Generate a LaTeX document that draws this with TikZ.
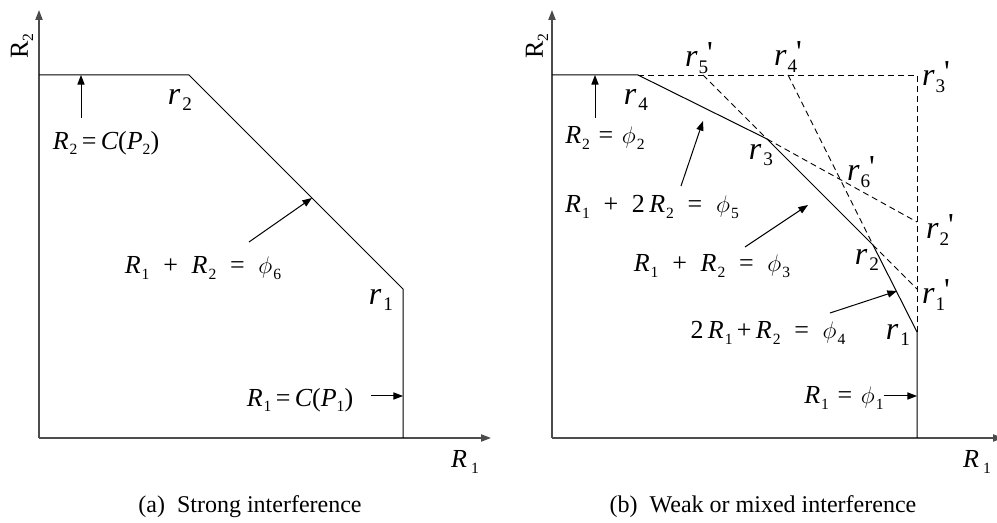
\documentclass[tikz,border=0pt]{standalone}
\usepackage{fontspec}
\setmainfont{Liberation Serif}
\newfontfamily\itfont{Liberation Serif Italic}
\usetikzlibrary{arrows.meta}
\newcommand\sub[1]{\raisebox{-0.45ex}{\scalebox{0.6}{#1}}}
\newcommand\Rv[1]{{\itfont R}\kern0.5pt\sub{#1}}
\newcommand\rv[1]{{\itfont r}\kern1pt\sub{#1}}
\newcommand\rp[1]{{\itfont r}\kern0.5pt\sub{#1}\kern-0.5pt\raisebox{0.2ex}{\textquotesingle}}
\newcommand\phv[1]{$\phi$\kern0.5pt\sub{#1}}
\tikzset{
  axis/.style={draw=black!70, line width=0.75pt, -{Triangle[length=5pt,width=3.6pt]}},
  bound/.style={draw=black, line width=0.5pt},
  ext/.style={draw=black, line width=0.45pt, dash pattern=on 3pt off 2pt},
  ptr/.style={draw=black, line width=0.5pt, -{Triangle[length=4.8pt,width=3.6pt]}},
  eqlab/.style={font=\fontsize{13}{15}\selectfont, inner sep=0pt},
  rlab/.style={font=\fontsize{16}{18}\selectfont, inner sep=0pt},
  caplab/.style={font=\fontsize{12}{14}\selectfont, inner sep=0pt}
}
\begin{document}
\begin{tikzpicture}[x=0.5pt,y=-0.5pt]
\useasboundingbox (0,0) rectangle (997,523);
% ---------- panel (a) ----------
\coordinate (Oa) at (39,438);
\coordinate (Ya) at (39,10);
\coordinate (Xa) at (491,438);
\coordinate (Ta) at (39,75);
\coordinate (ar2) at (189,75);
\coordinate (ar1) at (403,289);
\coordinate (Ba) at (403,438);
\draw[axis] (Oa) -- (Ya);
\draw[axis] (Oa) -- (Xa);
\draw[bound] (Ta) -- (ar2) -- (ar1) -- (Ba);
\coordinate (pa1s) at (81,118);
\coordinate (pa1e) at (81,75);
\coordinate (pa2s) at (249,242);
\coordinate (pa2e) at (312,198);
\coordinate (pa3s) at (371,396);
\coordinate (pa3e) at (403,396);
\draw[ptr] (pa1s) -- (pa1e);
\draw[ptr] (pa2s) -- (pa2e);
\draw[ptr] (pa3s) -- (pa3e);
\node[rlab] (la-r2) at (180,100) {\rv{2}};
\node[rlab] (la-r1) at (381,300) {\rv{1}};
\node[eqlab] (la-e2) at (106,143) {\Rv{2}\,=\,{\itfont C}({\itfont P}\sub{2})};
\node[eqlab] (la-e6) at (203,268) {\Rv{1}\; +\; \Rv{2}\; =\; \phv{6}};
\node[eqlab] (la-e1) at (300,400) {\Rv{1}\,=\,{\itfont C}({\itfont P}\sub{1})};
\node[eqlab] (la-x) at (465,462) {{\itfont R}\kern2pt\sub{1}};
\node[eqlab, rotate=90] (la-y) at (22,46) {R\sub{2}};
\node[caplab] (la-cap) at (250,507) {(a)\enspace Strong interference};
% ---------- panel (b) ----------
\coordinate (Ob) at (552,438);
\coordinate (Yb) at (552,10);
\coordinate (Xb) at (1003,438);
\coordinate (Tb) at (552,75);
\coordinate (r4) at (638,75);
\coordinate (r3) at (767,139);
\coordinate (r2) at (873,245);
\coordinate (r1) at (917,332);
\coordinate (Bb) at (917,438);
\coordinate (r3p) at (917,75);
\coordinate (r5p) at (703,75);
\coordinate (r4p) at (788,75);
\coordinate (r2p) at (917,222);
\coordinate (r1p) at (917,289);
\draw[axis] (Ob) -- (Yb);
\draw[axis] (Ob) -- (Xb);
\draw[ext] (r4) -- (r3p) -- (r1);
\draw[ext] (r5p) -- (r3);
\draw[ext] (r2) -- (r1p);
\draw[ext] (r4p) -- (r2);
\draw[ext] (r3) -- (r2p);
\draw[bound] (Tb) -- (r4) -- (r3) -- (r2) -- (r1) -- (Bb);
\coordinate (pb1s) at (595,118);
\coordinate (pb1e) at (595,75);
\coordinate (pb2s) at (681,186);
\coordinate (pb2e) at (703,121);
\coordinate (pb3s) at (745,247);
\coordinate (pb3e) at (808,205);
\coordinate (pb4s) at (830,313);
\coordinate (pb4e) at (897,291);
\coordinate (pb5s) at (884,396);
\coordinate (pb5e) at (917,396);
\draw[ptr] (pb1s) -- (pb1e);
\draw[ptr] (pb2s) -- (pb2e);
\draw[ptr] (pb3s) -- (pb3e);
\draw[ptr] (pb4s) -- (pb4e);
\draw[ptr] (pb5s) -- (pb5e);
\node[rlab] (lb-r5p) at (699,58) {\rp{5}};
\node[rlab] (lb-r4p) at (788,57) {\rp{4}};
\node[rlab] (lb-r3p) at (936,77) {\rp{3}};
\node[rlab] (lb-r4) at (636,100) {\rv{4}};
\node[rlab] (lb-r3) at (761,155) {\rv{3}};
\node[rlab] (lb-r6p) at (861,172) {\rp{6}};
\node[rlab] (lb-r2p) at (940,230) {\rp{2}};
\node[rlab] (lb-r2) at (867,260) {\rv{2}};
\node[rlab] (lb-r1p) at (936,295) {\rp{1}};
\node[rlab] (lb-r1) at (898,335) {\rv{1}};
\node[eqlab] (lb-e2) at (605,138) {\Rv{2}\,\,=\,\,\phv{2}};
\node[eqlab] (lb-e5) at (652,207) {\Rv{1}\; +\; 2\,\Rv{2}\; =\; \phv{5}};
\node[eqlab] (lb-e3) at (712,266) {\Rv{1}\; +\; \Rv{2}\; =\; \phv{3}};
\node[eqlab] (lb-e4) at (768,333) {2\,\Rv{1}\,+\,\Rv{2}\; =\; \phv{4}};
\node[eqlab] (lb-e1) at (844,398) {\Rv{1}\,\,=\,\,\phv{1}};
\node[eqlab] (lb-x) at (977,462) {{\itfont R}\kern2pt\sub{1}};
\node[eqlab, rotate=90] (lb-y) at (537,46) {R\sub{2}};
\node[caplab] (lb-cap) at (763,507) {(b)\enspace Weak or mixed interference};
\end{tikzpicture}
\end{document}
